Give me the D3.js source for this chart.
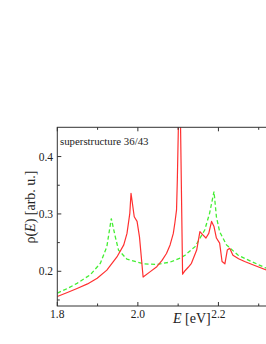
<!DOCTYPE html>
<html>
<head>
<meta charset="utf-8">
<script src="https://cdn.jsdelivr.net/npm/d3@7"></script>
<style>
  body { margin: 0; background: #fff; overflow: hidden; }
  svg { display: block; }
  text { font-family: "Liberation Serif", "DejaVu Serif", serif; fill: #222; }
</style>
</head>
<body>
<div id="chart"></div>
<script>
// energies (eV) and densities
const redE = [1.80, 1.825, 1.849, 1.875, 1.899, 1.923, 1.948, 1.965, 1.973, 1.980, 1.983,
  1.991, 1.998, 2.004, 2.013, 2.03, 2.047, 2.06, 2.071, 2.08, 2.088, 2.092, 2.096, 2.098,
  2.1005, 2.102, 2.104, 2.106, 2.111, 2.117, 2.125, 2.133, 2.146, 2.154, 2.162, 2.169,
  2.176, 2.183, 2.189, 2.195, 2.203, 2.209, 2.216, 2.222, 2.228, 2.236, 2.25, 2.265,
  2.29, 2.32];
const redV = [0.156, 0.163, 0.170, 0.178, 0.188, 0.202, 0.225, 0.246, 0.266, 0.301, 0.336,
  0.295, 0.287, 0.260, 0.190, 0.199, 0.208, 0.219, 0.231, 0.246, 0.266, 0.285, 0.307, 0.360,
  0.450, 0.520, 0.520, 0.450, 0.195, 0.201, 0.207, 0.214, 0.237, 0.269, 0.263, 0.258,
  0.266, 0.287, 0.278, 0.258, 0.249, 0.217, 0.213, 0.237, 0.240, 0.228, 0.222, 0.217,
  0.210, 0.202];

const greenE = [1.80, 1.825, 1.849, 1.882, 1.907, 1.923, 1.934, 1.944, 1.952, 1.973, 2.014,
  2.047, 2.08, 2.105, 2.117, 2.142, 2.166, 2.178, 2.189, 2.195, 2.203, 2.220, 2.249, 2.282,
  2.32];
const greenV = [0.162, 0.170, 0.179, 0.194, 0.214, 0.243, 0.292, 0.260, 0.237, 0.221, 0.213,
  0.212, 0.216, 0.223, 0.228, 0.243, 0.272, 0.301, 0.339, 0.295, 0.269, 0.246, 0.228, 0.217,
  0.205];

const xTicks = [1.8, 2.0, 2.2];
const yTicks = [0.2, 0.3, 0.4];
const title = "superstructure 36/43";

const width = 266, height = 344;
const plot = { left: 57.3, top: 127.3, right: 299, bottom: 306 };

const svg = d3.select("#chart").append("svg")
  .attr("width", width).attr("height", height);

const x = d3.scaleLinear().domain([1.8, 2.4]).range([plot.left, plot.right]);
const y = d3.scaleLinear().domain([0.1395, 0.451]).range([plot.bottom, plot.top]);

svg.append("defs").append("clipPath").attr("id", "clip")
  .append("rect")
  .attr("x", plot.left).attr("y", plot.top)
  .attr("width", plot.right - plot.left).attr("height", plot.bottom - plot.top);

const lines = svg.append("g").attr("clip-path", "url(#clip)");
const line = d3.line().x(d => x(d[0])).y(d => y(d[1]));

lines.append("path")
  .datum(greenE.map((e, i) => [e, greenV[i]]))
  .attr("d", line)
  .attr("fill", "none")
  .attr("stroke", "#44ee33")
  .attr("stroke-width", 1.3)
  .attr("stroke-dasharray", "4,2.5");

lines.append("path")
  .datum(redE.map((e, i) => [e, redV[i]]))
  .attr("d", line)
  .attr("fill", "none")
  .attr("stroke", "#ff3030")
  .attr("stroke-width", 1.2)
  .attr("stroke-linejoin", "round");

// frame
svg.append("rect")
  .attr("x", plot.left).attr("y", plot.top)
  .attr("width", plot.right - plot.left).attr("height", plot.bottom - plot.top)
  .attr("fill", "none").attr("stroke", "#333").attr("stroke-width", 1);

// inward ticks
const xMinor = d3.range(1.8, 2.41, 0.1);
const yMinor = [0.15, 0.25, 0.35];
function xTick(g, ypos, dir) {
  g.selectAll(null).data(xMinor).join("line")
    .attr("x1", d => x(d)).attr("x2", d => x(d))
    .attr("y1", ypos).attr("y2", d => ypos + dir * (xTicks.some(t => Math.abs(t - d) < 1e-6) ? 4 : 2.5))
    .attr("stroke", "#333");
}
xTick(svg.append("g"), plot.bottom, -1);
xTick(svg.append("g"), plot.top, 1);

const yAll = yTicks.concat(yMinor);
svg.append("g").selectAll(null).data(yAll).join("line")
  .attr("x1", plot.left).attr("x2", d => plot.left + (yTicks.includes(d) ? 4 : 2.5))
  .attr("y1", d => y(d)).attr("y2", d => y(d))
  .attr("stroke", "#333");

// tick labels
svg.append("g").selectAll(null).data(xTicks).join("text")
  .attr("x", d => x(d)).attr("y", 318)
  .attr("text-anchor", "middle")
  .style("font-size", "11.5px")
  .text(d => d.toFixed(1));

svg.append("g").selectAll(null).data(yTicks).join("text")
  .attr("x", 53).attr("y", d => y(d) + 4)
  .attr("text-anchor", "end")
  .style("font-size", "11.5px")
  .text(d => d.toFixed(1));

// axis titles
const xl = svg.append("text")
  .attr("x", 173).attr("y", 323)
  .style("font-size", "14px");
xl.append("tspan").style("font-style", "italic").text("E");
xl.append("tspan").text(" [eV]");

const yl = svg.append("text")
  .attr("transform", "translate(35,207) rotate(-90)")
  .attr("text-anchor", "middle")
  .style("font-size", "14px");
yl.append("tspan").text("ρ(");
yl.append("tspan").style("font-style", "italic").text("E");
yl.append("tspan").text(") [arb. u.]");

svg.append("text")
  .attr("x", 60).attr("y", 144.5)
  .style("font-size", "10.8px")
  .text(title);
</script>
</body>
</html>
